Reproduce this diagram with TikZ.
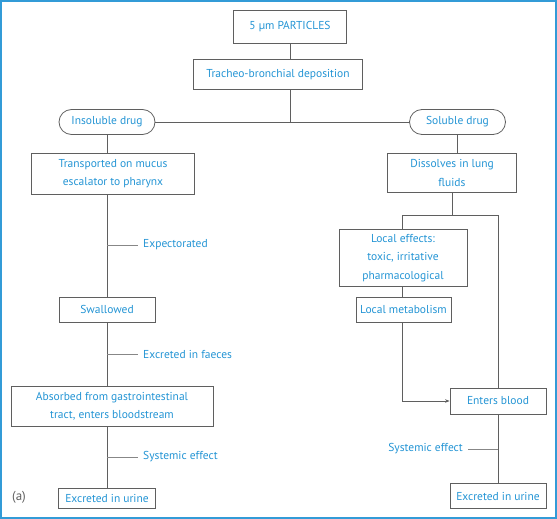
\documentclass[tikz,border=0pt]{standalone}
\usepackage{fontspec}
\setmainfont{PT Sans}
\usetikzlibrary{shapes.misc,arrows.meta}
\definecolor{txtblue}{RGB}{35,148,212}
\definecolor{frameblue}{RGB}{50,155,215}
\definecolor{linegray}{RGB}{95,95,95}
\definecolor{branchgray}{RGB}{135,135,135}
\tikzset{
  box/.style={draw=linegray, line width=0.8pt, text=txtblue, align=center, inner sep=0pt,
    font=\fontsize{11.5}{18.3}\selectfont},
  pill/.style={box, rounded rectangle},
  lbl/.style={text=txtblue, inner sep=0pt, font=\fontsize{11.5}{18}\selectfont},
  conn/.style={draw=linegray, line width=0.8pt},
  branch/.style={draw=branchgray, line width=1pt},
}
\begin{document}
\begin{tikzpicture}[x=1pt,y=-1pt]
\useasboundingbox (0,0) rectangle (557,519);
\draw[frameblue, line width=1.6pt] (1,1) rectangle (556,518);

\node[box, minimum width=113pt, minimum height=33pt] (p5) at (290,26.5) {5 µm PARTICLES};
\node[box, minimum width=169pt, minimum height=30pt] (tb) at (278,74.5) {Tracheo-bronchial deposition};
\node[pill, minimum width=96pt, minimum height=25pt] (ins) at (107,122) {Insoluble drug};
\node[pill, minimum width=96pt, minimum height=25pt] (sol) at (457.5,122) {Soluble drug};
\node[box, minimum width=163pt, minimum height=41pt] (trans) at (113,173.5) {Transported on mucus\\escalator to pharynx};
\node[box, minimum width=129pt, minimum height=39pt] (diss) at (452,173) {Dissolves in lung\\fluids};
\node[box, minimum width=96pt, minimum height=25pt] (swal) at (107,309.5) {Swallowed};
\node[box, minimum width=202pt, minimum height=40pt] (abs) at (112,406) {Absorbed from gastrointestinal\\tract, enters bloodstream};
\node[box, minimum width=97pt, minimum height=20pt] (urL) at (107,498) {Excreted in urine};
\node[box, minimum width=128pt, minimum height=57pt] (loc) at (403,258) {Local effects:\\toxic, irritative\\pharmacological};
\node[box, minimum width=95pt, minimum height=25pt] (met) at (403.5,309.5) {Local metabolism};
\node[box, minimum width=96pt, minimum height=26pt] (blood) at (498,401) {Enters blood};
\node[box, minimum width=96pt, minimum height=25pt] (urR) at (498,496) {Excreted in urine};

\node[lbl, anchor=west] (expect) at (143,245) {Expectorated};
\node[lbl, anchor=west] (faeces) at (143,354) {Excreted in faeces};
\node[lbl, anchor=west] (sysL) at (143,457) {Systemic effect};
\node[lbl, anchor=east] (sysR) at (463,449) {Systemic effect};
\node[lbl, text=linegray, anchor=center, font=\fontsize{13}{15}\selectfont] (lbla) at (19,497) {(a)};

% top
\draw[conn] (p5.south) -- (p5.south |- tb.north);
\coordinate (j1) at (p5.south |- ins.east);
\draw[conn] (p5.south |- tb.south) -- (j1);
\draw[conn] (ins.east) -- (sol.west);
% left column
\draw[conn] (ins.south) -- (ins.south |- trans.north);
\draw[conn] (ins.south |- trans.south) -- (swal.north);
\draw[conn] (swal.south) -- (swal.south |- abs.north);
\draw[conn] (swal.south |- abs.south) -- (urL.north);
\coordinate (bE) at (swal.north |- expect.west);
\coordinate (bF) at (swal.north |- faeces.west);
\coordinate (bS) at (swal.north |- sysL.west);
\draw[branch] (bE) -- ([xshift=-5pt]expect.west);
\draw[branch] (bF) -- ([xshift=-5pt]faeces.west);
\draw[branch] (bS) -- ([xshift=-5pt]sysL.west);
% right column
\draw[conn] (sol.south) -- (sol.south |- diss.north);
\coordinate (s1) at (452,215.5);
\coordinate (sL) at (402,215.5);
\coordinate (sR) at (498,215.5);
\draw[conn] (diss.south -| s1) -- (s1);
\draw[conn] (loc.north -| sL) -- (sL) -- (sR) -- (blood.north -| sR);
\draw[conn] (loc.south -| sL) -- (met.north -| sL);
\coordinate (corner) at (402,401);
\draw[conn, -{Stealth[length=4.5pt,width=3.5pt]}] (met.south -| corner) -- (corner) -- (blood.west);
\draw[conn] (blood.south) -- (urR.north);
\coordinate (bR) at (blood.south |- sysR.east);
\draw[branch] (bR) -- ([xshift=5pt]sysR.east);
\end{tikzpicture}
\end{document}
